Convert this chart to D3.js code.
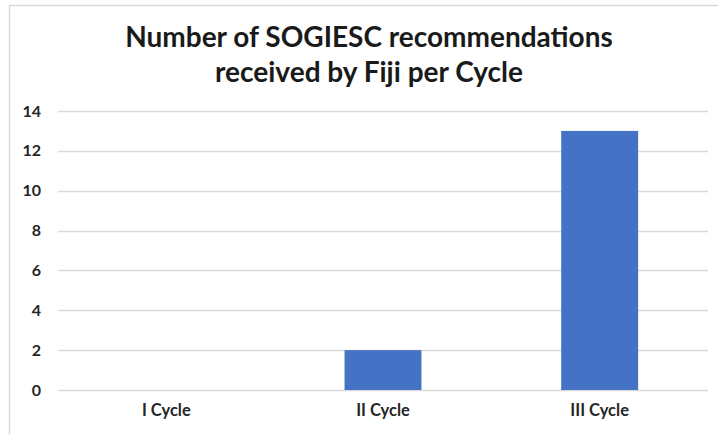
<!DOCTYPE html>
<html lang="en">
<head>
<meta charset="utf-8">
<script src="https://d3js.org/d3.v7.min.js"></script>
<style>
  body { margin: 0; background: #fff; }
  text { font-family: Lato, "Open Sans", sans-serif; fill: #262626; }
</style>
</head>
<body>
<svg width="718" height="434"></svg>
<script>
// data
var cycles = ["I Cycle", "II Cycle", "III Cycle"];
var recommendations = [0, 2, 13];
var yTicks = [0, 2, 4, 6, 8, 10, 12, 14];
var titleLines = ["Number of SOGIESC recommendations", "received by Fiji per Cycle"];

var svg = d3.select("svg");

// chart frame (only top and left edges visible in the crop)
svg.append("path")
    .attr("d", "M9.5,434 V5.5 H718")
    .attr("fill", "none")
    .attr("stroke", "#d9d9d9")
    .attr("stroke-width", 1.5);

var margin = {left: 58, right: 10, top: 111, bottom: 44};
var width = 718 - margin.left - margin.right,
    height = 434 - margin.top - margin.bottom;

var g = svg.append("g").attr("transform", "translate(" + margin.left + "," + margin.top + ")");

var x = d3.scaleBand().domain(cycles).range([0, width]).paddingInner(0.645).paddingOuter(0.3225);
var y = d3.scaleLinear().domain([0, 14]).range([height, 0]);

// gridlines
g.selectAll(".grid")
  .data(yTicks)
  .enter().append("line")
    .attr("x1", 0)
    .attr("x2", width)
    .attr("y1", function(d) { return Math.round(y(d)) + 0.5; })
    .attr("y2", function(d) { return Math.round(y(d)) + 0.5; })
    .attr("stroke", "#d9d9d9")
    .attr("stroke-width", 1.3);

// bars
g.selectAll(".bar")
  .data(recommendations)
  .enter().append("rect")
    .attr("x", function(d, i) { return x(cycles[i]); })
    .attr("y", function(d) { return y(d); })
    .attr("width", x.bandwidth())
    .attr("height", function(d) { return y(0) - y(d); })
    .attr("fill", "#4472c4");

// y axis labels
var yAxis = g.append("g")
    .call(d3.axisLeft(y).tickValues(yTicks).tickSize(0).tickPadding(17));
yAxis.select(".domain").remove();
yAxis.selectAll("text")
    .attr("font-family", "Lato, sans-serif")
    .style("font-size", "16px")
    .style("font-weight", "bold")
    .style("fill", "#262626");

// x axis labels
var xAxis = g.append("g")
    .attr("transform", "translate(0," + height + ")")
    .call(d3.axisBottom(x).tickSize(0).tickPadding(14));
xAxis.select(".domain").remove();
xAxis.selectAll("text")
    .attr("font-family", "Lato, sans-serif")
    .style("font-size", "16.5px")
    .style("font-weight", "bold")
    .style("fill", "#262626");

// title
svg.append("g").selectAll("text")
  .data(titleLines)
  .enter().append("text")
    .attr("x", 369)
    .attr("y", function(d, i) { return 47 + i * 35; })
    .attr("text-anchor", "middle")
    .style("font-size", "28px")
    .style("font-weight", "bold")
    .style("fill", "#1a1a1a")
    .text(function(d) { return d; });
</script>
</body>
</html>
